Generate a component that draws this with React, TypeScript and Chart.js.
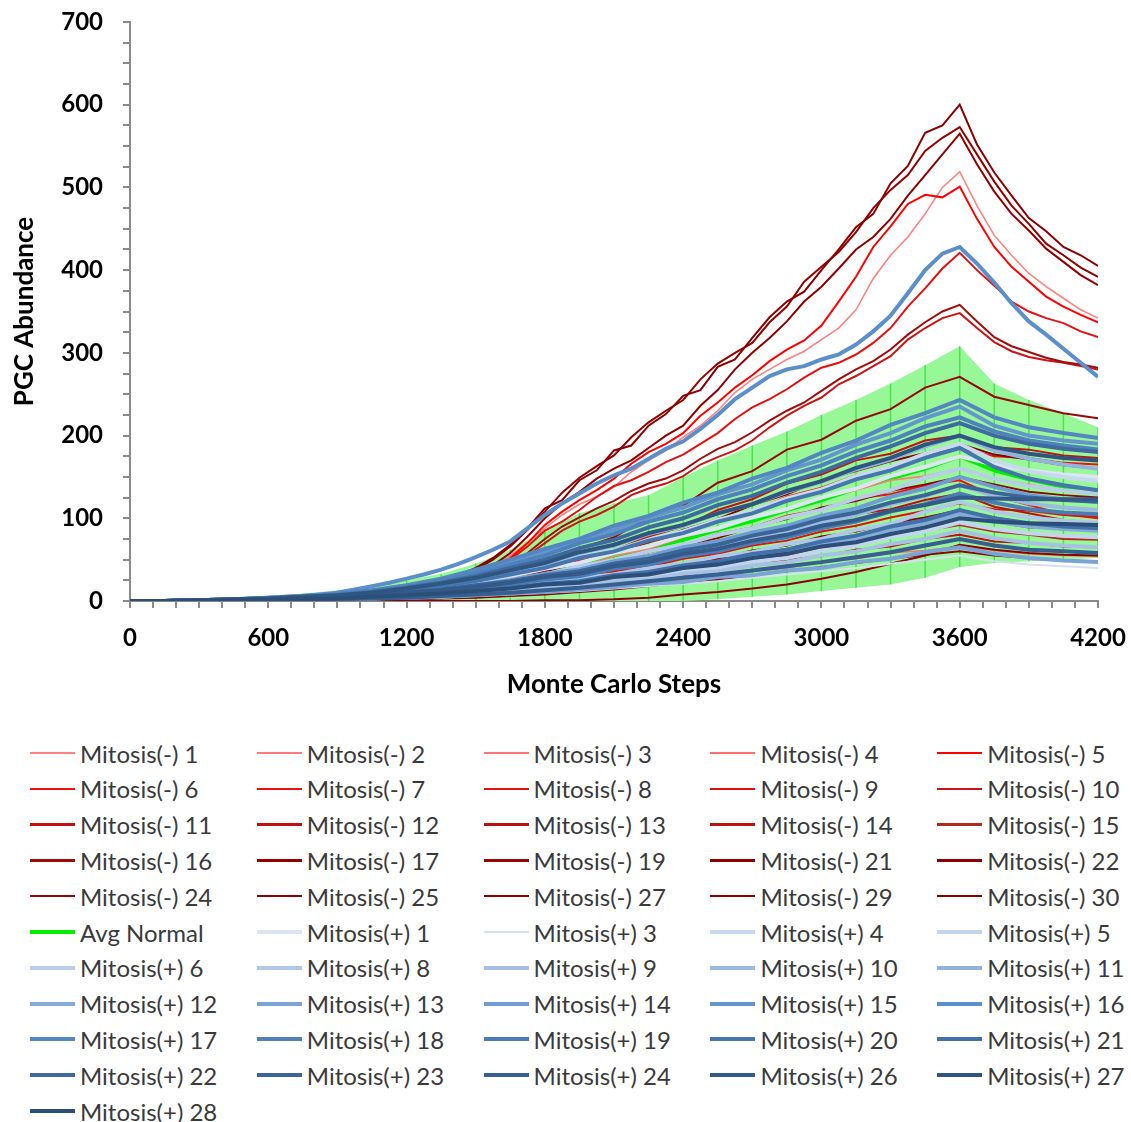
import React, { useEffect, useRef } from 'react';
import { Chart, registerables } from 'chart.js';

Chart.register(...registerables);

// ---------- categories / ticks ----------
const STEPS = [0, 150, 300, 450, 600, 750, 900, 1050, 1200, 1350, 1500, 1650, 1800, 1950, 2100, 2250, 2400, 2550, 2700, 2850, 3000, 3150, 3300, 3450, 3600, 3750, 3900, 4050, 4200];
const FINE_STEPS = [0, 75, 150, 225, 300, 375, 450, 525, 600, 675, 750, 825, 900, 975, 1050, 1125, 1200, 1275, 1350, 1425, 1500, 1575, 1650, 1725, 1800, 1875, 1950, 2025, 2100, 2175, 2250, 2325, 2400, 2475, 2550, 2625, 2700, 2775, 2850, 2925, 3000, 3075, 3150, 3225, 3300, 3375, 3450, 3525, 3600, 3675, 3750, 3825, 3900, 3975, 4050, 4125, 4200];
const X_TICK_LABELS = [0, 600, 1200, 1800, 2400, 3000, 3600, 4200];
const Y_TICK_LABELS = [0, 100, 200, 300, 400, 500, 600, 700];

// ---------- Mitosis(-) series (57 values = FINE_STEPS, 29 values = STEPS) ----------
const NEG_1 = [0, 0, 0, 0, 1, 1, 1, 1, 2, 3, 4, 5, 6, 7, 9, 11, 13, 16, 19, 24, 30, 40, 55, 70, 88, 104, 117, 126, 138, 156, 170, 182, 198, 212, 230, 252, 268, 280, 292, 302, 316, 330, 352, 390, 418, 440, 468, 500, 519, 478, 442, 418, 396, 380, 366, 352, 342];
const NEG_2 = [0, 0, 0, 1, 1, 2, 3, 5, 7, 10, 15, 22, 33, 41, 54, 63, 77, 87, 101, 110, 125, 134, 146, 151, 160, 147, 141, 134, 130];
const NEG_3 = [0, 0, 0, 0, 0, 1, 1, 2, 3, 5, 7, 10, 14, 20, 24, 32, 36, 45, 50, 59, 65, 74, 79, 89, 95, 85, 81, 76, 75];
const NEG_4 = [0, 0, 0, 0, 0, 0, 1, 1, 2, 3, 4, 6, 9, 13, 16, 20, 25, 29, 36, 40, 47, 51, 58, 61, 66, 61, 57, 55, 54];
const NEG_5 = [0, 0, 0, 0, 1, 1, 1, 2, 2, 3, 3, 4, 5, 6, 8, 10, 12, 15, 18, 22, 28, 38, 52, 70, 92, 108, 122, 134, 148, 166, 180, 190, 203, 224, 240, 258, 273, 290, 304, 315, 333, 362, 392, 428, 453, 480, 491, 488, 501, 462, 428, 404, 386, 368, 356, 346, 337];
const NEG_6 = [0, 0, 0, 1, 1, 2, 4, 5, 8, 12, 17, 26, 35, 49, 57, 71, 81, 97, 109, 126, 137, 152, 160, 177, 185, 175, 173, 167, 165];
const NEG_7 = [0, 0, 0, 1, 1, 2, 3, 5, 7, 10, 14, 21, 27, 39, 47, 59, 67, 81, 89, 103, 111, 124, 129, 140, 146, 127, 116, 105, 100];
const NEG_8 = [0, 0, 0, 0, 1, 1, 1, 2, 2, 3, 3, 4, 5, 6, 8, 10, 12, 15, 18, 22, 28, 38, 50, 66, 85, 96, 110, 126, 139, 146, 156, 168, 177, 190, 203, 220, 234, 244, 256, 270, 282, 288, 298, 312, 330, 356, 378, 402, 421, 400, 381, 362, 350, 342, 336, 326, 319];
const NEG_9 = [0, 0, 0, 0, 1, 1, 2, 3, 5, 7, 10, 15, 22, 27, 36, 41, 51, 57, 67, 73, 84, 91, 101, 109, 118, 111, 109, 104, 102];
const NEG_10 = [0, 0, 0, 0, 1, 1, 1, 2, 2, 2, 3, 4, 4, 5, 7, 8, 10, 12, 15, 19, 24, 32, 42, 55, 70, 85, 96, 104, 114, 128, 136, 142, 151, 165, 174, 182, 194, 210, 224, 236, 246, 262, 272, 284, 296, 316, 330, 342, 348, 330, 313, 302, 295, 291, 288, 284, 280];
const NEG_11 = [0, 0, 0, 1, 2, 3, 4, 6, 8, 12, 18, 27, 38, 52, 61, 78, 90, 110, 123, 142, 153, 170, 178, 194, 200, 186, 183, 176, 173];
const NEG_12 = [0, 0, 0, 0, 0, 1, 1, 2, 3, 4, 6, 9, 12, 17, 20, 27, 30, 38, 42, 50, 54, 62, 66, 75, 80, 72, 70, 66, 65];
const NEG_13 = [0, 0, 0, 0, 1, 1, 2, 4, 6, 8, 12, 18, 23, 33, 39, 49, 56, 67, 75, 87, 94, 105, 111, 122, 130, 114, 106, 98, 95];
const NEG_14 = [0, 0, 0, 0, 0, 1, 2, 3, 4, 6, 8, 12, 18, 21, 29, 33, 42, 47, 57, 63, 73, 79, 89, 96, 105, 96, 89, 88, 85];
const NEG_15 = [0, 0, 0, 0, 0, 1, 1, 2, 3, 4, 6, 9, 13, 17, 24, 28, 36, 41, 50, 55, 65, 71, 80, 85, 92, 84, 80, 75, 74];
const NEG_16 = [0, 0, 0, 0, 1, 1, 1, 2, 2, 3, 3, 4, 5, 6, 7, 9, 11, 13, 16, 20, 25, 34, 45, 58, 75, 90, 101, 112, 121, 133, 142, 148, 158, 172, 184, 192, 204, 218, 230, 240, 254, 268, 280, 290, 304, 322, 337, 350, 358, 338, 319, 308, 301, 294, 289, 286, 282];
const NEG_17 = [0, 0, 0, 0, 1, 1, 2, 2, 3, 4, 5, 6, 8, 9, 11, 13, 16, 19, 24, 30, 38, 50, 66, 86, 108, 131, 149, 163, 176, 198, 216, 230, 243, 268, 287, 300, 312, 337, 356, 386, 404, 422, 446, 475, 497, 515, 544, 560, 573, 540, 507, 478, 456, 432, 418, 403, 392];
const NEG_19 = [0, 0, 1, 1, 2, 3, 4, 6, 9, 13, 20, 31, 44, 63, 77, 101, 115, 143, 157, 183, 195, 218, 232, 258, 271, 247, 237, 227, 221];
const NEG_21 = [0, 0, 0, 0, 1, 1, 2, 2, 3, 3, 4, 5, 7, 8, 10, 12, 14, 17, 20, 25, 32, 43, 58, 78, 100, 118, 132, 148, 160, 170, 185, 200, 212, 236, 255, 280, 300, 318, 338, 362, 380, 402, 425, 440, 462, 490, 515, 540, 565, 528, 495, 468, 448, 426, 410, 394, 382];
const NEG_22 = [0, 0, 0, 0, 1, 1, 2, 2, 3, 4, 5, 6, 8, 10, 12, 14, 17, 21, 25, 31, 40, 52, 68, 88, 112, 122, 146, 158, 182, 188, 212, 226, 248, 255, 283, 292, 318, 343, 362, 374, 400, 425, 452, 468, 505, 526, 566, 575, 600, 552, 518, 490, 463, 447, 428, 418, 405];
const NEG_24 = [0, 0, 0, 0, 1, 2, 3, 4, 6, 9, 13, 19, 28, 35, 46, 54, 67, 76, 89, 99, 113, 121, 133, 141, 150, 141, 132, 128, 125];
const NEG_25 = [0, 0, 0, 0, 0, 0, 1, 1, 2, 3, 4, 6, 8, 11, 14, 18, 22, 26, 31, 36, 41, 46, 51, 56, 60, 55, 52, 49, 48];
const NEG_27 = [0, 0, 0, 0, 0, 0, 0, 0, 0, 0, 0, 0, 1, 1, 2, 4, 8, 11, 15, 20, 27, 35, 45, 55, 68, 62, 58, 56, 55];
const NEG_29 = [0, 0, 0, 0, 1, 1, 2, 3, 4, 6, 9, 13, 19, 23, 31, 36, 45, 51, 61, 67, 78, 84, 94, 101, 110, 101, 94, 92, 90];
const NEG_30 = [0, 0, 0, 1, 1, 2, 3, 5, 8, 11, 16, 24, 36, 46, 61, 71, 86, 99, 116, 129, 146, 157, 169, 179, 190, 177, 171, 164, 160];

// ---------- Avg Normal and its spread ----------
const AVG_NORMAL = [0, 0, 1, 2, 3, 4, 6, 8, 11, 15, 20, 27, 35, 45, 55, 64, 74, 86, 97, 110, 122, 136, 148, 160, 175, 158, 147, 138, 132];
const BAND_UPPER = [0, 0, 2, 4, 6, 9, 13, 18, 25, 33, 45, 62, 85, 106, 118, 128, 150, 170, 188, 205, 225, 243, 263, 285, 308, 263, 243, 227, 210];
const BAND_LOWER = [0, 0, 0, 0, 0, 0, 0, 0, 0, 0, 0, 0, 0, 0, 0, 0, 0, 2, 5, 8, 12, 16, 20, 28, 41, 46, 48, 50, 52];

// ---------- Mitosis(+) series ----------
const POS_1 = [0, 0, 0, 1, 2, 3, 5, 8, 12, 16, 22, 30, 39, 46, 58, 66, 79, 88, 101, 111, 125, 136, 151, 162, 175, 165, 158, 153, 150];
const POS_3 = [0, 0, 0, 0, 0, 1, 1, 2, 3, 4, 6, 8, 10, 12, 15, 18, 21, 24, 28, 32, 36, 40, 45, 50, 55, 48, 44, 42, 40];
const POS_4 = [0, 0, 0, 1, 2, 4, 6, 9, 13, 18, 25, 33, 41, 53, 61, 74, 84, 98, 109, 124, 135, 151, 162, 178, 190, 170, 157, 150, 145];
const POS_5 = [0, 0, 0, 0, 1, 1, 2, 4, 5, 7, 10, 13, 17, 21, 26, 29, 36, 40, 48, 52, 61, 67, 77, 84, 95, 87, 82, 79, 77];
const POS_6 = [0, 0, 0, 1, 2, 3, 5, 7, 10, 14, 19, 26, 32, 42, 49, 60, 68, 80, 88, 101, 110, 124, 134, 149, 160, 148, 139, 134, 130];
const POS_8 = [0, 0, 0, 1, 1, 2, 3, 5, 7, 10, 13, 17, 22, 28, 32, 40, 45, 54, 59, 69, 75, 86, 93, 108, 120, 108, 101, 97, 95];
const POS_9 = [0, 0, 0, 0, 1, 1, 2, 3, 5, 7, 9, 12, 15, 19, 24, 26, 33, 36, 43, 47, 55, 60, 69, 75, 85, 76, 70, 67, 65];
const POS_10 = [0, 0, 0, 1, 1, 3, 4, 6, 9, 12, 16, 21, 28, 33, 42, 48, 58, 65, 76, 83, 95, 104, 117, 127, 140, 127, 118, 113, 110];
const POS_11 = [0, 0, 1, 1, 3, 4, 7, 10, 14, 20, 27, 36, 45, 58, 67, 81, 91, 106, 117, 132, 144, 159, 171, 187, 200, 182, 172, 165, 160];
const POS_12 = [0, 0, 0, 0, 1, 2, 3, 4, 6, 8, 11, 15, 20, 23, 30, 34, 42, 46, 55, 60, 69, 75, 86, 94, 105, 96, 90, 87, 85];
const POS_13 = [0, 0, 0, 0, 0, 1, 2, 3, 4, 5, 7, 9, 11, 14, 17, 21, 23, 29, 31, 37, 40, 47, 51, 59, 65, 57, 52, 49, 47];
const POS_14 = [0, 0, 0, 1, 2, 3, 5, 7, 10, 14, 19, 25, 33, 38, 48, 54, 65, 72, 83, 91, 103, 112, 126, 136, 150, 138, 128, 123, 120];
const POS_15 = [0, 0, 1, 2, 3, 5, 8, 12, 18, 25, 35, 47, 59, 74, 86, 101, 113, 129, 141, 158, 171, 189, 203, 221, 235, 212, 200, 194, 190];
const POS_16 = [0, 0, 0, 1, 1, 1, 2, 3, 4, 5, 6, 8, 10, 14, 18, 22, 27, 32, 38, 45, 53, 62, 72, 88, 104, 118, 130, 142, 152, 160, 172, 184, 193, 208, 225, 244, 258, 272, 280, 284, 292, 298, 310, 326, 345, 372, 400, 420, 428, 408, 385, 360, 338, 322, 305, 288, 271];
const POS_17 = [0, 0, 1, 2, 4, 6, 9, 13, 19, 27, 38, 50, 63, 75, 91, 103, 119, 131, 148, 161, 179, 194, 213, 227, 243, 222, 210, 203, 197];
const POS_18 = [0, 0, 1, 2, 3, 5, 8, 12, 17, 24, 33, 44, 55, 70, 81, 96, 107, 123, 135, 151, 164, 181, 194, 211, 222, 205, 194, 188, 183];
const POS_19 = [0, 0, 0, 1, 1, 2, 4, 6, 8, 11, 15, 20, 26, 30, 39, 44, 54, 60, 70, 77, 88, 96, 108, 117, 130, 119, 111, 107, 105];
const POS_20 = [0, 0, 1, 1, 3, 4, 6, 9, 13, 18, 24, 32, 40, 52, 60, 73, 82, 96, 106, 121, 132, 147, 158, 173, 185, 162, 148, 140, 134];
const POS_21 = [0, 0, 0, 1, 1, 2, 3, 5, 7, 9, 12, 16, 21, 24, 31, 35, 43, 48, 57, 62, 72, 79, 90, 98, 110, 100, 94, 90, 88];
const POS_22 = [0, 0, 1, 2, 3, 5, 7, 11, 16, 22, 30, 40, 50, 64, 74, 89, 100, 116, 127, 143, 156, 173, 187, 203, 215, 200, 190, 184, 180];
const POS_23 = [0, 0, 1, 1, 2, 3, 5, 7, 10, 14, 19, 24, 31, 36, 45, 51, 61, 68, 79, 87, 99, 107, 119, 128, 140, 131, 125, 122, 120];
const POS_24 = [0, 0, 0, 0, 1, 1, 2, 3, 4, 6, 8, 10, 13, 16, 20, 24, 28, 32, 37, 42, 47, 53, 59, 67, 75, 67, 62, 60, 58];
const POS_26 = [0, 0, 1, 1, 2, 3, 5, 7, 10, 13, 17, 22, 29, 33, 42, 47, 57, 63, 73, 80, 91, 98, 109, 116, 125, 124, 123, 123, 123];
const POS_27 = [0, 0, 1, 2, 3, 5, 7, 10, 15, 21, 28, 37, 46, 59, 68, 82, 92, 106, 117, 133, 145, 161, 173, 189, 200, 186, 178, 173, 170];
const POS_28 = [0, 0, 0, 1, 1, 2, 3, 5, 7, 9, 12, 15, 20, 22, 29, 32, 40, 44, 52, 57, 66, 71, 81, 89, 100, 96, 94, 93, 92];

// ---------- series descriptors (label, values, colour, width) ----------
type Series = { label: string; values: number[]; color: string; width: number };

const NEG_SERIES: Series[] = [
  { label: 'Mitosis(-) 1', values: NEG_1, color: '#ff8080', width: 1.6 },
  { label: 'Mitosis(-) 2', values: NEG_2, color: '#ff7a7a', width: 1.6 },
  { label: 'Mitosis(-) 3', values: NEG_3, color: '#ff7373', width: 1.6 },
  { label: 'Mitosis(-) 4', values: NEG_4, color: '#ff6d6d', width: 1.6 },
  { label: 'Mitosis(-) 5', values: NEG_5, color: '#ff0000', width: 2 },
  { label: 'Mitosis(-) 6', values: NEG_6, color: '#f41010', width: 2 },
  { label: 'Mitosis(-) 7', values: NEG_7, color: '#ee1010', width: 2 },
  { label: 'Mitosis(-) 8', values: NEG_8, color: '#e61010', width: 2 },
  { label: 'Mitosis(-) 9', values: NEG_9, color: '#e01010', width: 2 },
  { label: 'Mitosis(-) 10', values: NEG_10, color: '#cc1414', width: 2 },
  { label: 'Mitosis(-) 11', values: NEG_11, color: '#c41010', width: 2 },
  { label: 'Mitosis(-) 12', values: NEG_12, color: '#c01010', width: 2 },
  { label: 'Mitosis(-) 13', values: NEG_13, color: '#bc1010', width: 2 },
  { label: 'Mitosis(-) 14', values: NEG_14, color: '#c01010', width: 2 },
  { label: 'Mitosis(-) 15', values: NEG_15, color: '#b02a1e', width: 2 },
  { label: 'Mitosis(-) 16', values: NEG_16, color: '#a00c0c', width: 2 },
  { label: 'Mitosis(-) 17', values: NEG_17, color: '#940000', width: 2 },
  { label: 'Mitosis(-) 19', values: NEG_19, color: '#960808', width: 2 },
  { label: 'Mitosis(-) 21', values: NEG_21, color: '#900000', width: 2 },
  { label: 'Mitosis(-) 22', values: NEG_22, color: '#8b0000', width: 2 },
  { label: 'Mitosis(-) 24', values: NEG_24, color: '#8e0606', width: 2 },
  { label: 'Mitosis(-) 25', values: NEG_25, color: '#8b0404', width: 2 },
  { label: 'Mitosis(-) 27', values: NEG_27, color: '#8b0000', width: 2 },
  { label: 'Mitosis(-) 29', values: NEG_29, color: '#8b0000', width: 2 },
  { label: 'Mitosis(-) 30', values: NEG_30, color: '#880000', width: 2 },
];

const AVG_SERIES: Series = { label: 'Avg Normal', values: AVG_NORMAL, color: '#00ee00', width: 4 };

const POS_SERIES: Series[] = [
  { label: 'Mitosis(+) 1', values: POS_1, color: '#dce6f2', width: 4 },
  { label: 'Mitosis(+) 3', values: POS_3, color: '#d5e1f0', width: 2 },
  { label: 'Mitosis(+) 4', values: POS_4, color: '#c8d9ef', width: 4 },
  { label: 'Mitosis(+) 5', values: POS_5, color: '#c2d5ee', width: 4 },
  { label: 'Mitosis(+) 6', values: POS_6, color: '#b8cde8', width: 4 },
  { label: 'Mitosis(+) 8', values: POS_8, color: '#b0c8e6', width: 4 },
  { label: 'Mitosis(+) 9', values: POS_9, color: '#a6c1e3', width: 4 },
  { label: 'Mitosis(+) 10', values: POS_10, color: '#9cbae0', width: 4 },
  { label: 'Mitosis(+) 11', values: POS_11, color: '#92b3dd', width: 4 },
  { label: 'Mitosis(+) 12', values: POS_12, color: '#85abd9', width: 4 },
  { label: 'Mitosis(+) 13', values: POS_13, color: '#7aa4d6', width: 4 },
  { label: 'Mitosis(+) 14', values: POS_14, color: '#6f9dd3', width: 4 },
  { label: 'Mitosis(+) 15', values: POS_15, color: '#6496ce', width: 4 },
  { label: 'Mitosis(+) 16', values: POS_16, color: '#5a8fc9', width: 4 },
  { label: 'Mitosis(+) 17', values: POS_17, color: '#5387c2', width: 4 },
  { label: 'Mitosis(+) 18', values: POS_18, color: '#4f82bd', width: 4 },
  { label: 'Mitosis(+) 19', values: POS_19, color: '#4a7db8', width: 4 },
  { label: 'Mitosis(+) 20', values: POS_20, color: '#4676b0', width: 4 },
  { label: 'Mitosis(+) 21', values: POS_21, color: '#4270a8', width: 4 },
  { label: 'Mitosis(+) 22', values: POS_22, color: '#3e6a9f', width: 4 },
  { label: 'Mitosis(+) 23', values: POS_23, color: '#3a6597', width: 4 },
  { label: 'Mitosis(+) 24', values: POS_24, color: '#376090', width: 4 },
  { label: 'Mitosis(+) 26', values: POS_26, color: '#335a88', width: 4 },
  { label: 'Mitosis(+) 27', values: POS_27, color: '#2f5581', width: 4 },
  { label: 'Mitosis(+) 28', values: POS_28, color: '#2b4f79', width: 4 },
];

const LEGEND_ITEMS: Series[] = [...NEG_SERIES, AVG_SERIES, ...POS_SERIES];

const FONT = 'Lato, "Open Sans", "DejaVu Sans", sans-serif';
const AXIS_GREY = '#8a8a8a';

function toPoints(values: number[]) {
  const xs = values.length === FINE_STEPS.length ? FINE_STEPS : STEPS;
  return xs.map((x, i) => ({ x, y: values[i] }));
}

function lineDataset(s: Series, order: number) {
  return {
    type: 'line' as const,
    label: s.label,
    data: toPoints(s.values),
    borderColor: s.color,
    backgroundColor: s.color,
    borderWidth: s.width,
    pointRadius: 0,
    tension: 0,
    fill: false,
    order,
  };
}

export default function App() {
  const canvasRef = useRef<HTMLCanvasElement | null>(null);

  useEffect(() => {
    if (!canvasRef.current) return;
    const errorBars: { x: number; y: number | null }[] = [];
    STEPS.forEach((x, i) => {
      errorBars.push({ x, y: BAND_LOWER[i] });
      errorBars.push({ x, y: BAND_UPPER[i] });
      errorBars.push({ x, y: null });
    });

    const datasets: any[] = [
      {
        type: 'line',
        label: 'band lower',
        data: toPoints(BAND_LOWER),
        borderWidth: 0,
        borderColor: 'rgba(0,0,0,0)',
        pointRadius: 0,
        fill: false,
        order: 1000,
      },
      {
        type: 'line',
        label: 'band upper',
        data: toPoints(BAND_UPPER),
        borderWidth: 0,
        borderColor: 'rgba(0,0,0,0)',
        backgroundColor: '#98f898',
        pointRadius: 0,
        fill: '-1',
        order: 1000,
      },
      {
        type: 'line',
        label: 'error bars',
        data: errorBars,
        borderColor: '#4fe04f',
        borderWidth: 1.5,
        pointRadius: 0,
        spanGaps: false,
        fill: false,
        order: 900,
      },
      lineDataset(AVG_SERIES, 850),
      ...NEG_SERIES.map((s, j) => lineDataset(s, 800 - j)),
      ...POS_SERIES.map((s, j) => lineDataset(s, 400 - j)),
    ];

    const tickFont = { family: FONT, size: 24, weight: 'bold' as const };
    const titleFont = { family: FONT, size: 26, weight: 'bold' as const };

    const chart = new Chart(canvasRef.current, {
      type: 'line',
      data: { datasets },
      options: {
        animation: false,
        responsive: false,
        events: [],
        layout: { padding: { top: 22, right: 33, bottom: 0, left: 0 } },
        plugins: {
          legend: { display: false },
          tooltip: { enabled: false },
        },
        scales: {
          x: {
            type: 'linear',
            min: 0,
            max: 4200,
            border: { display: true, color: AXIS_GREY, width: 2 },
            grid: { drawOnChartArea: false, drawTicks: true, tickLength: 7, color: AXIS_GREY, lineWidth: 2 },
            ticks: {
              stepSize: 100,
              autoSkip: false,
              maxRotation: 0,
              minRotation: 0,
              padding: 16,
              color: '#000',
              font: tickFont,
              callback: (v: any) => {
                const n = Math.round(Number(v));
                return X_TICK_LABELS.includes(n) ? String(n) : '';
              },
            },
            title: {
              display: true,
              text: 'Monte Carlo Steps',
              color: '#000',
              font: titleFont,
              padding: { top: 0, bottom: 10 },
            },
            afterFit: (s: any) => {
              s.height = 109;
              s.paddingLeft = 0;
              s.paddingRight = 0;
            },
          },
          y: {
            type: 'linear',
            min: 0,
            max: 700,
            border: { display: true, color: AXIS_GREY, width: 2 },
            grid: { drawOnChartArea: false, drawTicks: true, tickLength: 7, color: AXIS_GREY, lineWidth: 2 },
            ticks: {
              stepSize: 25,
              autoSkip: false,
              padding: 20,
              color: '#000',
              font: tickFont,
              callback: (v: any) => {
                const n = Math.round(Number(v));
                return Y_TICK_LABELS.includes(n) ? String(n) : '';
              },
            },
            title: {
              display: true,
              text: 'PGC Abundance',
              color: '#000',
              font: titleFont,
              padding: { top: 9, bottom: 0 },
            },
            afterFit: (s: any) => {
              s.width = 130;
              s.paddingTop = 0;
              s.paddingBottom = 0;
            },
          },
        },
      },
    });
    return () => chart.destroy();
  }, []);

  return (
    <div style={{ position: 'absolute', left: 0, top: 0, width: 1131, height: 1122, background: '#fff' }}>
      <canvas ref={canvasRef} width={1131} height={710} style={{ position: 'absolute', left: 0, top: 0 }} />
      {LEGEND_ITEMS.map((s, i) => {
        const col = i % 5;
        const row = Math.floor(i / 5);
        return (
          <div
            key={s.label}
            style={{
              position: 'absolute',
              left: 30 + col * 226.8,
              top: 735 + row * 35.8,
              height: 36,
              display: 'flex',
              alignItems: 'center',
              whiteSpace: 'nowrap',
              fontFamily: FONT,
              fontSize: 24,
              color: '#3a3a3a',
            }}
          >
            <span
              style={{
                display: 'inline-block',
                width: 45,
                height: Math.max(2, s.width === 4 ? 4 : s.width + 0.5),
                background: s.color,
                marginRight: 5,
              }}
            />
            <span>{s.label}</span>
          </div>
        );
      })}
    </div>
  );
}
